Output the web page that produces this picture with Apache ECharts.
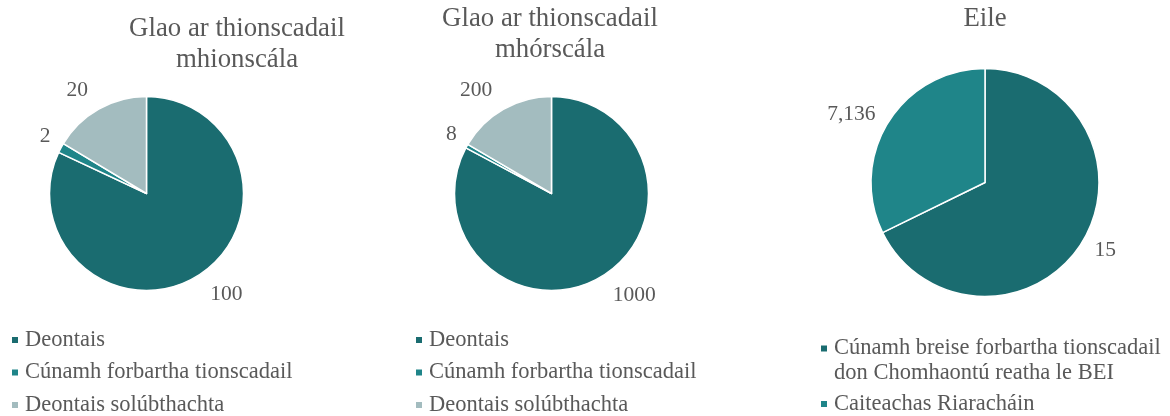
<!DOCTYPE html>
<html>
<head>
<meta charset="utf-8">
<script src="https://cdn.jsdelivr.net/npm/echarts@6/dist/echarts.min.js"></script>
<style>
html,body{margin:0;padding:0;background:#fff;}
#chart{width:1170px;height:416px;}
</style>
</head>
<body>
<div id="chart"></div>
<script>
// ---- data ----
const titles = ['Glao ar thionscadail\nmhionscála', 'Glao ar thionscadail\nmhórscála', 'Eile'];
const categoriesSmall = ['Deontais', 'Cúnamh forbartha tionscadail', 'Deontais solúbthachta'];
const valuesSmall = [100, 2, 20];
const categoriesLarge = ['Deontais', 'Cúnamh forbartha tionscadail', 'Deontais solúbthachta'];
const valuesLarge = [1000, 8, 200];
const categoriesOther = ['Cúnamh breise forbartha tionscadail don Chomhaontú reatha le BEI', 'Caiteachas Riaracháin'];
const valuesOther = [15, 7.136];
const labelsOther = ['15', '7,136'];

// ---- styles ----
const COLORS3 = ['#1a6c70', '#1f8589', '#a3bcbf'];
const TXT = '#595959';
const FONT = '"Liberation Serif", "Times New Roman", serif';

function pieSeries(cats, vals, labels, center, radius, lineLen, offsets) {
  return {
    type: 'pie',
    center: center,
    radius: radius,
    startAngle: 90,
    clockwise: true,
    avoidLabelOverlap: false,
    silent: true,
    itemStyle: { borderColor: '#ffffff', borderWidth: 1.5 },
    label: {
      show: true,
      position: 'outside',
      distanceToLabelLine: 0,
      fontFamily: FONT,
      fontSize: 21.5,
      color: TXT,
      formatter: p => (labels ? labels[p.dataIndex] : String(vals[p.dataIndex]))
    },
    labelLine: { show: false, length: lineLen, length2: 0 },
    data: cats.map((c, i) => ({
      name: c,
      value: vals[i],
      itemStyle: { color: COLORS3[i] },
      label: { offset: (offsets && offsets[i]) || [0, 0] }
    }))
  };
}

const legendText = { fontFamily: FONT, fontSize: 22.5, color: TXT, lineHeight: 24, padding: [0, 0, 0, 1] };
const titleText = { fontFamily: FONT, fontSize: 26.8, fontWeight: 'normal', color: TXT, lineHeight: 31 };

const option = {
  animation: false,
  title: [
    { text: titles[0], left: 237, top: 13, textAlign: 'center', padding: 0, textStyle: titleText },
    { text: titles[1], left: 550, top: 3, textAlign: 'center', padding: 0, textStyle: titleText },
    { text: titles[2], left: 985, top: 3, textAlign: 'center', padding: 0, textStyle: titleText }
  ],
  legend: [
    { orient: 'vertical', left: 10, top: 328, height: 100, padding: 0, itemGap: 8.5, itemWidth: 8, itemHeight: 8,
      icon: 'rect', selectedMode: false, data: categoriesSmall, textStyle: legendText },
    { orient: 'vertical', left: 414, top: 328, height: 100, padding: 0, itemGap: 8.5, itemWidth: 8, itemHeight: 8,
      icon: 'rect', selectedMode: false, data: categoriesLarge, textStyle: legendText },
    { orient: 'vertical', left: 819, top: 311, height: 100, padding: 0, itemWidth: 8, itemHeight: 8,
      icon: 'rect', selectedMode: false, data: [categoriesOther[0]],
      formatter: n => '\n' + n.replace(' don ', '\ndon '),
      textStyle: { fontFamily: FONT, fontSize: 22.5, color: TXT, lineHeight: 25, padding: [0, 0, 0, 1] } },
    { orient: 'vertical', left: 819, top: 392, height: 100, padding: 0, itemWidth: 8, itemHeight: 8,
      icon: 'rect', selectedMode: false, data: [categoriesOther[1]], textStyle: legendText }
  ],
  series: [
    pieSeries(categoriesSmall, valuesSmall, null, [146.5, 193.5], 97, 22, [null, [9, -1], null]),
    pieSeries(categoriesLarge, valuesLarge, null, [551.5, 193.5], 97, 22, [null, [9, -1], null]),
    pieSeries(categoriesOther, valuesOther, labelsOther, [985, 182.5], 114, 15, null)
  ]
};

const chart = echarts.init(document.getElementById('chart'), null, { renderer: 'canvas' });
chart.setOption(option);
</script>
</body>
</html>
